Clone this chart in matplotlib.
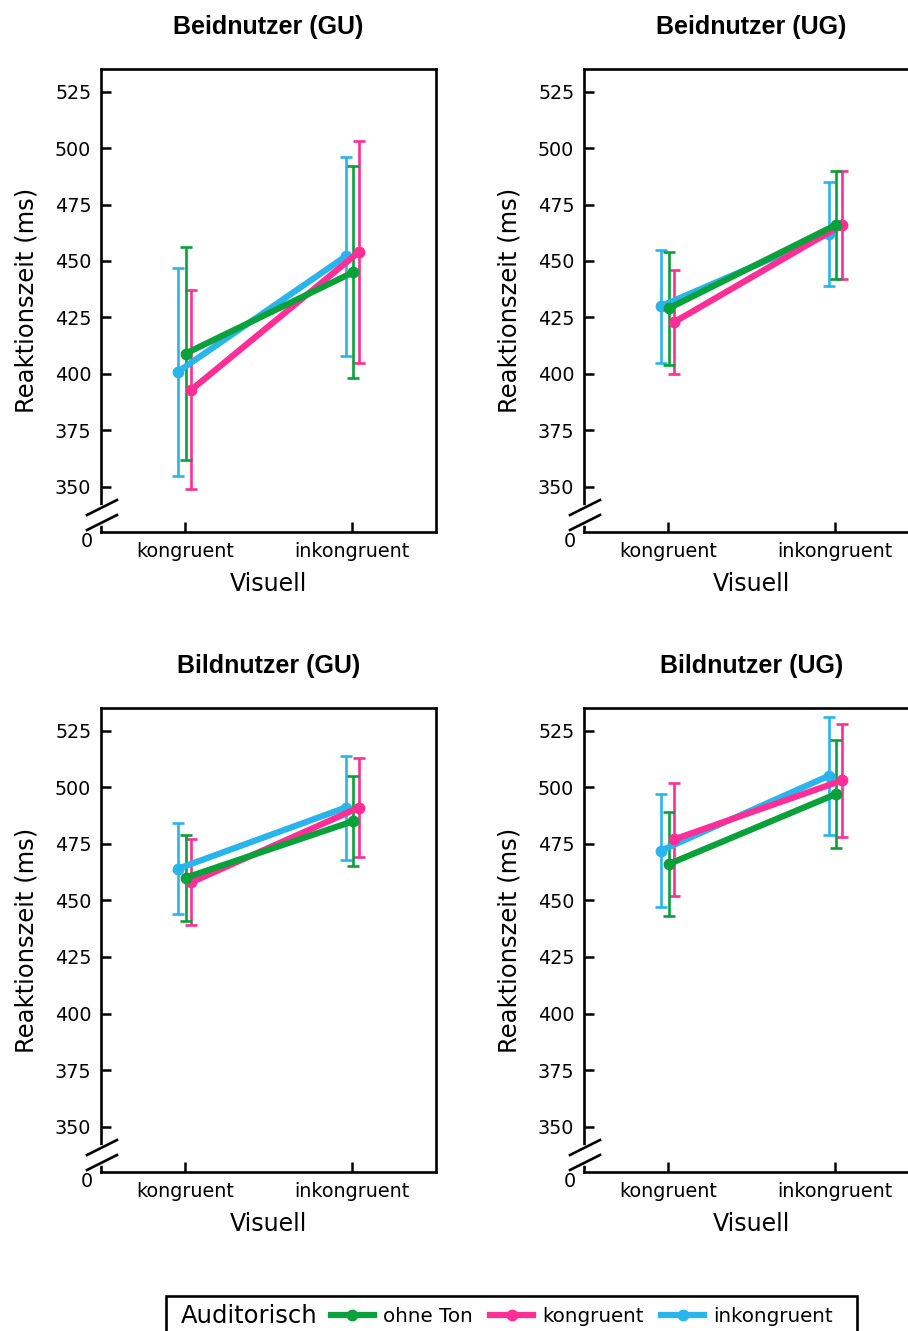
import numpy as np
import matplotlib
matplotlib.use('Agg')
import matplotlib.pyplot as plt
from matplotlib.lines import Line2D
from matplotlib.patches import Rectangle

plt.rcParams['font.family'] = ['DejaVu Sans']

# data
conditions = ['kongruent', 'inkongruent']
panel_titles = ['Beidnutzer (GU)', 'Beidnutzer (UG)', 'Bildnutzer (GU)', 'Bildnutzer (UG)']
series_names = ['inkongruent', 'kongruent', 'ohne Ton']   # drawing order
series_colors = ['#29b4ea', '#ff2d96', '#0aa13b']

ohne_ton_mean = [[409, 445], [429, 466], [460, 485], [466, 497]]
ohne_ton_err = [[47, 47], [25, 24], [19, 20], [23, 24]]
kongruent_mean = [[393, 454], [423, 466], [458, 491], [477, 503]]
kongruent_err = [[44, 49], [23, 24], [19, 22], [25, 25]]
inkongruent_mean = [[401, 452], [430, 462], [464, 491], [472, 505]]
inkongruent_err = [[46, 44], [25, 23], [20, 23], [25, 26]]

y_ticks = [350, 375, 400, 425, 450, 475, 500, 525]

means = [inkongruent_mean, kongruent_mean, ohne_ton_mean]
errs = [inkongruent_err, kongruent_err, ohne_ton_err]
offsets = [-0.04, 0.04, 0.005]

W, H = 908, 1331
fig = plt.figure(figsize=(W / 100, H / 100), dpi=100)

# axes boxes in pixels: left, top, right, bottom
boxes = [(101, 69, 436, 532), (584, 69, 919, 532),
         (101, 708, 436, 1172), (584, 708, 919, 1172)]

x = np.arange(len(conditions))
for i, (l, t, r, b) in enumerate(boxes):
    ax = fig.add_axes([l / W, 1 - b / H, (r - l) / W, (b - t) / H])
    for k in range(3):
        ax.errorbar(x + offsets[k], means[k][i], yerr=errs[k][i], fmt='-o',
                    color=series_colors[k], lw=4.5, ms=7.5, elinewidth=1.9,
                    capsize=4, capthick=1.9)
    ax.set_xlim(-0.5, 1.5)
    ax.set_ylim(330, 535)
    ax.set_xticks(x)
    ax.set_xticklabels(conditions)
    ax.set_yticks(y_ticks)
    ax.tick_params(direction='in', length=7, width=1.8, labelsize=13.8, pad=7)
    ax.tick_params(axis='x', pad=7)
    for s in ax.spines.values():
        s.set_linewidth(1.9)
    ax.set_title(panel_titles[i], family='Liberation Sans', fontweight='bold',
                 fontsize=18, pad=25)
    ax.set_ylabel('Reaktionszeit (ms)', fontsize=17.5, labelpad=12)
    ax.set_xlabel('Visuell', fontsize=17, labelpad=8)

    # "0" at axis bottom and break marks
    aw, ah = (r - l), (b - t)
    ax.annotate('0', xy=(0, 0), xycoords='axes fraction', xytext=(-6, -7),
                textcoords='offset points', ha='right', va='center', fontsize=13.8)
    ax.plot([0, 0], [9 / ah, 24 / ah], transform=ax.transAxes, color='white',
            lw=4, clip_on=False, zorder=5)
    for y0 in (2, 17):
        ax.plot([-14 / aw, 16 / aw], [y0 / ah, (y0 + 15) / ah],
                transform=ax.transAxes, color='black', lw=1.9,
                clip_on=False, zorder=6)

# legend
fig.patches.append(Rectangle((166 / W, -0.02), 691 / W, 0.02 + (1 - 1296 / H),
                             transform=fig.transFigure, fill=False,
                             edgecolor='black', lw=1.9))
fig.text(181 / W, 1 - 1316 / H, 'Auditorisch', fontsize=17.5, va='center', ha='left')
handles = [Line2D([], [], color=series_colors[k], lw=4.5, marker='o', ms=7.5)
           for k in (2, 1, 0)]
labels = [series_names[k] for k in (2, 1, 0)]
fig.legend(handles, labels, loc='center left', bbox_to_anchor=(331 / W, 1 - 1316 / H),
           ncol=3, frameon=False, fontsize=14.3, borderpad=0, handlelength=2.15,
           handletextpad=0.45, columnspacing=0.9, borderaxespad=0)

fig.savefig('out.png', dpi=100)
